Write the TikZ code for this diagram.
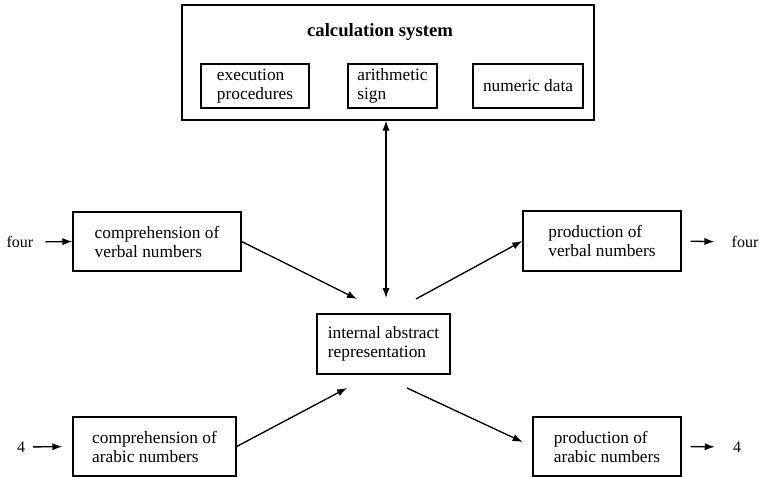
\documentclass[tikz,border=0pt]{standalone}
\usepackage{fontspec}
\setmainfont{Liberation Serif}
\usetikzlibrary{arrows.meta, positioning}

\tikzset{
  blockbox/.style={draw, line width=1pt, align=left, inner sep=0pt,
    font=\fontsize{13}{14.25}\selectfont},
  numlabel/.style={inner sep=0pt, font=\fontsize{12}{14}\selectfont},
  arr/.style={line width=1pt, -{Latex[length=7.5pt,width=5.5pt]}},
  dblarr/.style={line width=1pt, {Latex[length=7.5pt,width=5.5pt]}-{Latex[length=7.5pt,width=5.5pt]}}
}

\begin{document}
\begin{tikzpicture}[x=0.75pt,y=-0.75pt]
\useasboundingbox (0,0) rectangle (759,477);
%calculation system
\node[blockbox, minimum width=309pt, minimum height=86.25pt] (calc) at (388,62.5) {};
\node[font=\fontsize{14}{16}\selectfont\bfseries] (calctitle) at (380,32) {calculation system};
\node[blockbox, minimum width=81pt, minimum height=33pt] (exec) at (255,86) {execution\\procedures};
\node[blockbox, minimum width=66.75pt, minimum height=33pt] (arith) at (392.5,86) {arithmetic\\sign};
\node[blockbox, minimum width=82.5pt, minimum height=33pt] (numdata) at (528,86) {numeric data};
%modules
\node[blockbox, minimum width=126pt, minimum height=44.25pt] (compverb) at (157,241.5) {comprehension of\\verbal numbers};
\node[blockbox, minimum width=122.25pt, minimum height=44.25pt] (comparab) at (154.5,446.5) {comprehension of\\arabic numbers};
\node[blockbox, minimum width=99.75pt, minimum height=45pt] (intrep) at (383.5,344) {internal abstract\\representation};
\node[blockbox, minimum width=118.5pt, minimum height=45pt] (prodverb) at (602,241) {production of\\verbal numbers};
\node[blockbox, minimum width=111pt, minimum height=44.25pt] (prodarab) at (607,446.5) {production of\\arabic numbers};
%inputs and outputs
\node[numlabel] (inverb) at (20,242) {four};
\node[numlabel] (inarab) at (21,447) {4};
\node[numlabel] (outverb) at (745,242) {four};
\node[numlabel] (outarab) at (737,447) {4};
%arrow ends near the internal representation
\coordinate (irtop) at (386,298);
\coordinate (irinup) at (357,299);
\coordinate (irinlow) at (347,388);
\coordinate (iroutup) at (416,299);
\coordinate (iroutlow) at (407,388);
%arrows
\draw[dblarr] (calc.south -| irtop) -- (irtop);
\draw[arr, shorten <=9pt] (inverb.east) -- (compverb.west);
\draw[arr, shorten <=5.8pt, shorten >=7.5pt] (inarab.east) -- (comparab.west);
\draw[arr] (compverb.east) -- (irinup);
\draw[arr] (comparab.east) -- (irinlow);
\draw[arr] (iroutup) -- (prodverb.west);
\draw[arr, shorten >=8pt] (iroutlow) -- (prodarab.west);
\draw[arr, shorten <=6.75pt, shorten >=12.75pt] (prodverb.east) -- (outverb.west);
\draw[arr, shorten <=6.75pt, shorten >=13.5pt] (prodarab.east) -- (outarab.west);
\end{tikzpicture}
\end{document}
